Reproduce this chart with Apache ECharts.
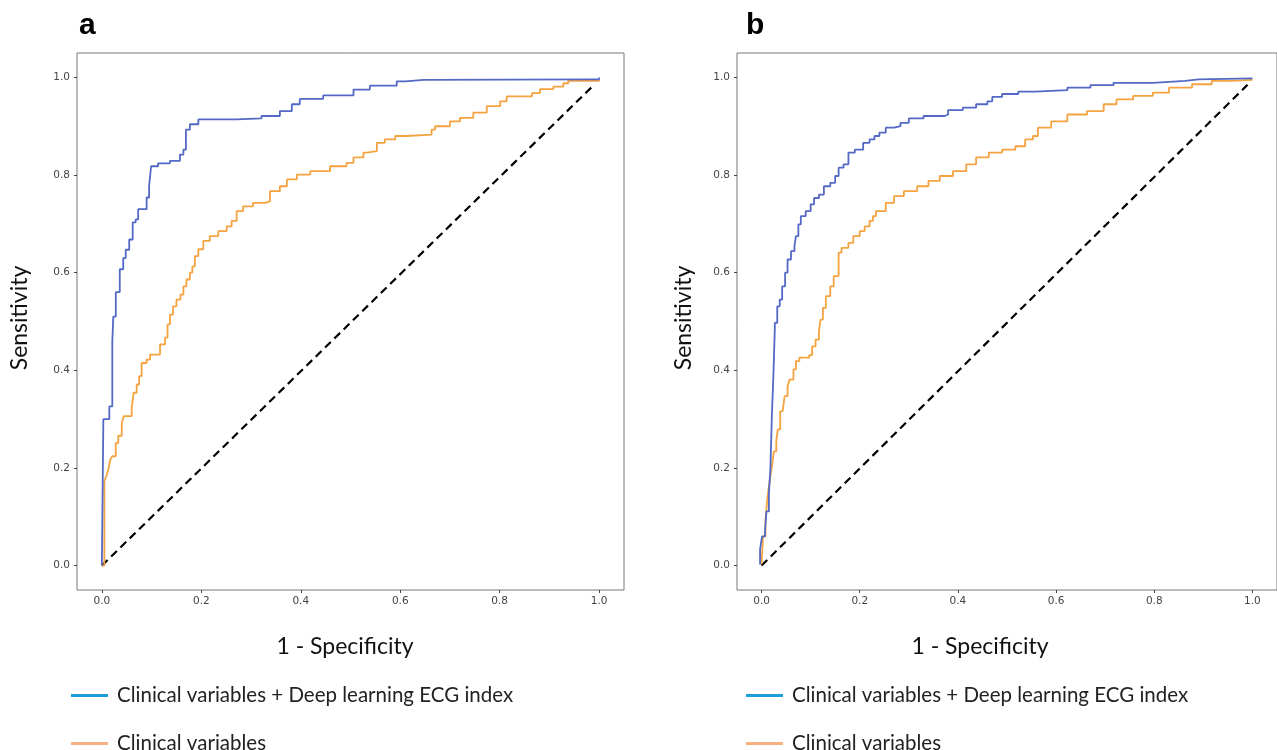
<!DOCTYPE html>
<html>
<head>
<meta charset="utf-8">
<script src="https://cdn.jsdelivr.net/npm/echarts@6/dist/echarts.min.js"></script>
<style>
html,body{margin:0;padding:0;background:#fff;}
#chart{width:1277px;height:750px;}
</style>
</head>
<body>
<div id="chart"></div>
<script>
// 图 a：ROC 曲线（读图估计的点）
var aDlX = [0,0.003,0.015,0.021,0.023,0.028,0.036,0.043,0.048,0.055,0.062,0.068,0.073,0.09,0.095,0.099,0.113,0.137,0.157,0.164,0.169,0.177,0.194,0.271,0.321,0.358,0.382,0.398,0.445,0.506,0.539,0.593,0.61,0.647,0.989,1.0];
var aDlY = [0,0.30,0.326,0.458,0.51,0.56,0.607,0.63,0.647,0.668,0.703,0.709,0.73,0.754,0.777,0.818,0.824,0.829,0.842,0.852,0.893,0.904,0.914,0.916,0.921,0.931,0.945,0.956,0.963,0.975,0.983,0.992,0.995,0.996,0.996,1.0];
var aClX = [0,0.005,0.009,0.013,0.017,0.021,0.028,0.033,0.04,0.044,0.06,0.064,0.07,0.075,0.08,0.09,0.097,0.117,0.127,0.132,0.137,0.143,0.15,0.158,0.164,0.17,0.177,0.182,0.187,0.194,0.204,0.217,0.234,0.251,0.261,0.271,0.284,0.304,0.328,0.338,0.358,0.372,0.392,0.419,0.459,0.492,0.506,0.526,0.533,0.553,0.569,0.59,0.613,0.663,0.67,0.7,0.72,0.747,0.774,0.801,0.814,0.865,0.881,0.908,0.928,0.938,1.0];
var aClY = [0,0.173,0.183,0.197,0.217,0.224,0.251,0.266,0.292,0.306,0.323,0.354,0.371,0.388,0.415,0.422,0.432,0.453,0.467,0.494,0.514,0.531,0.545,0.555,0.572,0.586,0.6,0.613,0.634,0.648,0.665,0.675,0.685,0.695,0.706,0.726,0.736,0.743,0.746,0.767,0.777,0.791,0.801,0.808,0.818,0.825,0.836,0.846,0.849,0.866,0.873,0.88,0.883,0.893,0.9,0.91,0.917,0.928,0.941,0.951,0.961,0.968,0.976,0.981,0.988,0.993,0.995];

// 图 b
var bDlX = [-0.003,-0.003,0.001,0.007,0.01,0.015,0.018,0.021,0.024,0.027,0.027,0.032,0.037,0.042,0.048,0.053,0.06,0.067,0.07,0.075,0.08,0.09,0.1,0.107,0.117,0.127,0.14,0.15,0.157,0.167,0.177,0.19,0.207,0.22,0.23,0.24,0.253,0.27,0.283,0.3,0.33,0.373,0.38,0.41,0.437,0.46,0.47,0.49,0.523,0.557,0.623,0.67,0.717,0.797,0.863,0.89,1.0];
var bDlY = [0.002,0.033,0.06,0.07,0.111,0.149,0.197,0.306,0.385,0.484,0.497,0.531,0.545,0.572,0.6,0.627,0.644,0.654,0.675,0.699,0.716,0.726,0.74,0.753,0.76,0.777,0.784,0.798,0.815,0.822,0.846,0.852,0.866,0.873,0.88,0.887,0.897,0.9,0.907,0.916,0.921,0.924,0.933,0.938,0.945,0.951,0.96,0.966,0.971,0.974,0.979,0.984,0.989,0.993,0.996,0.998,0.998];
var bClX = [0,0.003,0.008,0.012,0.015,0.019,0.023,0.025,0.03,0.033,0.038,0.043,0.047,0.053,0.057,0.065,0.07,0.077,0.097,0.103,0.11,0.117,0.12,0.125,0.131,0.14,0.147,0.157,0.163,0.177,0.187,0.2,0.21,0.22,0.227,0.233,0.253,0.27,0.29,0.317,0.34,0.363,0.39,0.417,0.437,0.463,0.49,0.517,0.537,0.553,0.563,0.59,0.623,0.663,0.697,0.723,0.757,0.797,0.83,0.877,0.917,0.957,1.0];
var bClY = [0.003,0.06,0.094,0.139,0.163,0.19,0.217,0.234,0.255,0.279,0.316,0.32,0.347,0.367,0.381,0.402,0.419,0.426,0.431,0.449,0.463,0.48,0.504,0.528,0.552,0.572,0.593,0.641,0.651,0.661,0.675,0.685,0.695,0.706,0.716,0.726,0.743,0.757,0.767,0.777,0.788,0.798,0.808,0.822,0.836,0.846,0.852,0.859,0.873,0.88,0.897,0.91,0.924,0.931,0.945,0.955,0.962,0.969,0.979,0.986,0.993,0.995,0.996];

var diagX = [0,0.99];
var diagY = [0,0.985];
var tickVals = [0,0.2,0.4,0.6,0.8,1.0];
var nameDl = 'Clinical variables + Deep learning ECG index';
var nameCl = 'Clinical variables';

function zip(xs, ys){
    var out = [];
    for (var i = 0; i < xs.length; i++) out.push([xs[i], ys[i]]);
    return out;
}

function axisOf(idx, margin){
    return {
        type:'value', gridIndex:idx, min:-0.05, max:1.05,
        splitLine:{show:false}, axisLine:{show:false, onZero:false},
        axisTick:{show:true, length:3, customValues:tickVals, lineStyle:{color:'#444', width:1}},
        axisLabel:{customValues:tickVals, color:'#444', fontSize:10.5, fontFamily:'DejaVu Sans', margin:margin,
            formatter:function(v){ return v.toFixed(1); }}
    };
}
function curve(name, idx, data, color){
    return {name:name, type:'line', xAxisIndex:idx, yAxisIndex:idx, data:data, step:'end',
        showSymbol:false, symbol:'none', lineStyle:{color:color, width:1.8}, itemStyle:{color:color},
        animation:false};
}
function diag(idx){
    return {type:'line', xAxisIndex:idx, yAxisIndex:idx, data:zip(diagX, diagY), showSymbol:false, symbol:'none',
        lineStyle:{color:'#000', width:2.2, type:[8,5]}, animation:false, silent:true};
}
// 图例：每项单独一个，竖排
function legendOf(left, top, name, color){
    return {
        left:left, top:top, icon:'rect', itemWidth:37, itemHeight:3, selectedMode:false,
        textStyle:{fontSize:20.5, color:'#222', fontFamily:'Lato', padding:[0,0,0,4]},
        data:[{name:name, itemStyle:{color:color}}]
    };
}

var option = {
    backgroundColor:'#fff',
    animation:false,
    grid:[
        {left:77, top:53, width:547, height:537, show:true, borderColor:'#777', borderWidth:1},
        {left:737, top:53, width:550, height:537, show:true, borderColor:'#777', borderWidth:1}
    ],
    xAxis:[axisOf(0, 6), axisOf(1, 6)],
    yAxis:[axisOf(0, 7), axisOf(1, 7)],
    legend:[
        legendOf(66, 680, nameDl, '#1a9fdc'),
        legendOf(66, 728, nameCl, '#f8b07e'),
        legendOf(741, 680, nameDl, '#1a9fdc'),
        legendOf(741, 728, nameCl, '#f8b07e')
    ],
    graphic:[
        {type:'text', left:79, top:11, style:{text:'a', fontSize:30, fontWeight:'bold', fontFamily:'Liberation Sans', fill:'#000'}},
        {type:'text', left:746, top:11, style:{text:'b', fontSize:30, fontWeight:'bold', fontFamily:'Liberation Sans', fill:'#000'}},
        {type:'text', x:20, y:318, rotation:Math.PI/2, style:{text:'Sensitivity', fontSize:23, fontFamily:'Lato', fill:'#111', align:'center', verticalAlign:'middle'}},
        {type:'text', x:684, y:318, rotation:Math.PI/2, style:{text:'Sensitivity', fontSize:23, fontFamily:'Lato', fill:'#111', align:'center', verticalAlign:'middle'}},
        {type:'text', x:345, y:647, style:{text:'1 - Specificity', fontSize:23, fontFamily:'Lato', fill:'#111', align:'center', verticalAlign:'middle'}},
        {type:'text', x:980, y:647, style:{text:'1 - Specificity', fontSize:23, fontFamily:'Lato', fill:'#111', align:'center', verticalAlign:'middle'}}
    ],
    series:[
        diag(0),
        curve(nameCl, 0, zip(aClX, aClY), '#f5a340'),
        curve(nameDl, 0, zip(aDlX, aDlY), '#5469c6'),
        diag(1),
        curve(nameCl, 1, zip(bClX, bClY), '#f5a340'),
        curve(nameDl, 1, zip(bDlX, bDlY), '#5469c6')
    ]
};

var myChart = echarts.init(document.getElementById('chart'));
myChart.setOption(option);
</script>
</body>
</html>
